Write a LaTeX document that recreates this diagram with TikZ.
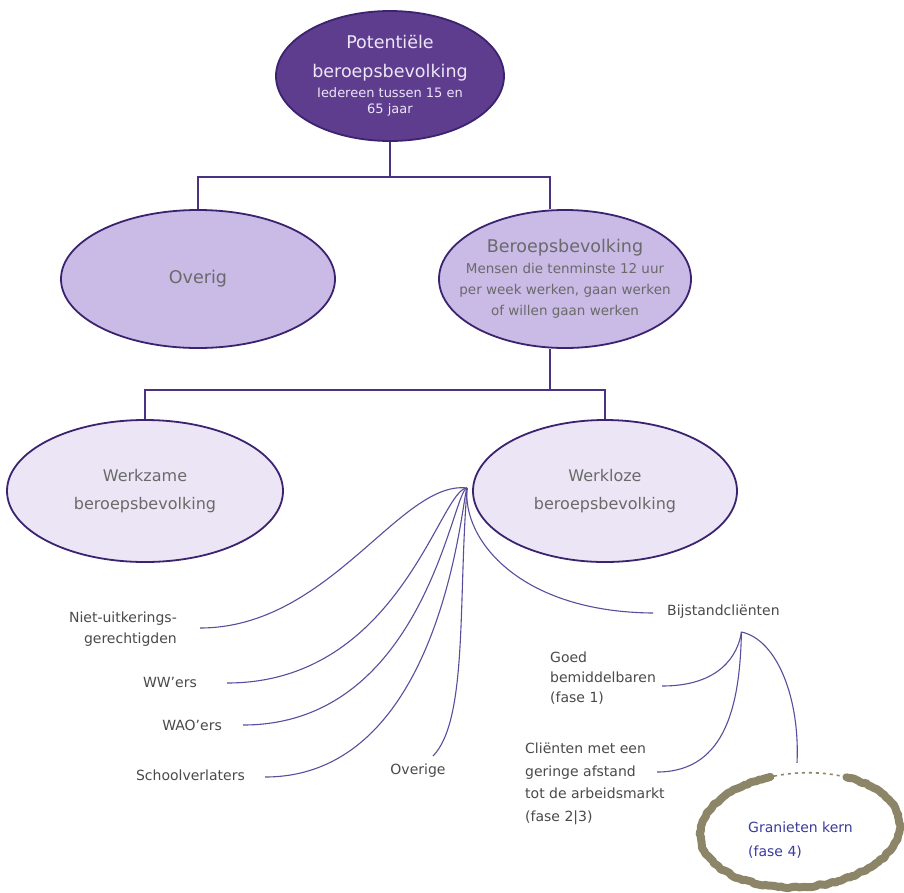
\documentclass[tikz,border=0pt]{standalone}
\usepackage{fontspec}
\setmainfont{DejaVu Sans}
\usetikzlibrary{shapes.geometric,calc,decorations.pathmorphing}
\definecolor{topfill}{HTML}{5E3D8F}
\definecolor{border}{HTML}{3B2370}
\definecolor{midfill}{HTML}{C9BAE6}
\definecolor{lowfill}{HTML}{ECE5F5}
\definecolor{barcol}{HTML}{4A3183}
\definecolor{fancol}{HTML}{5B4C9C}
\definecolor{txtgray}{HTML}{6A6A6A}
\definecolor{toptxt}{HTML}{EDE6F7}
\definecolor{lbltxt}{HTML}{4A4A4A}
\definecolor{ringcol}{HTML}{8C8568}
\definecolor{grantxt}{HTML}{3B3C9C}
\newcommand{\bigline}{\fontsize{17.5}{20}\selectfont}
\begin{document}
\begin{tikzpicture}[x=1pt,y=-1pt,
  ell/.style={ellipse, draw=border, line width=1.8pt, inner sep=0pt},
  etext/.style={align=center, inner sep=0pt, text=txtgray},
  bar/.style={draw=barcol, line width=2pt},
  fan/.style={draw=fancol, line width=1.1pt},
  lbl/.style={font=\fontsize{14}{21}\selectfont, text=lbltxt, inner sep=0pt},
  ring/.style={draw=ringcol, line width=8pt, line cap=round, line join=round,
     decorate, decoration={random steps, segment length=3pt, amplitude=1pt}}
]
\useasboundingbox (0,0) rectangle (904,892);
\fill[white] (0,0) rectangle (904,892);

% ellipses
\node[ell, fill=topfill, minimum width=228pt, minimum height=130pt,
  label={[etext, text=toptxt, font=\fontsize{13}{16}\selectfont]center:{{\bigline Potentiële}\\[13pt] {\bigline beroepsbevolking}\\[4pt] Iedereen tussen 15 en\\ 65 jaar}}]
  (top) at (390,76) {};
\node[ell, fill=midfill, minimum width=274pt, minimum height=138pt,
  label={[etext, font=\bigline]center:{Overig}}]
  (overig) at (198,279) {};
\node[ell, fill=midfill, minimum width=252pt, minimum height=138pt,
  label={[etext, font=\fontsize{13.5}{21}\selectfont]center:{{\bigline Beroepsbevolking}\\ Mensen die tenminste 12 uur\\ per week werken, gaan werken\\ of willen gaan werken}}]
  (beroeps) at (565,279) {};
\node[ell, fill=lowfill, minimum width=276pt, minimum height=142pt,
  label={[etext, font=\fontsize{16}{28}\selectfont]center:{Werkzame\\ beroepsbevolking}}]
  (werkzame) at (145,491) {};
\node[ell, fill=lowfill, minimum width=264pt, minimum height=142pt,
  label={[etext, font=\fontsize{16}{28}\selectfont]center:{Werkloze\\ beroepsbevolking}}]
  (werkloze) at (605,491) {};

% tree bars
\coordinate (b1) at (0,177);
\coordinate (b2) at (0,390);
\coordinate (bN) at ($(beroeps.north)+(-15,0)$);
\coordinate (bS) at ($(beroeps.south)+(-15,0)$);
\draw[bar] (top.south) -- (top.south |- b1);
\draw[bar] (overig.north) |- (bN |- b1) -- (bN);
\draw[bar] (bS) -- (bS |- b2);
\draw[bar] (werkzame.north) |- (werkloze.north |- b2) -- (werkloze.north);

% labels
\node[lbl, align=right, anchor=east] (niet) at (177,629) {Niet-uitkerings-\\ gerechtigden};
\node[lbl, anchor=east] (ww) at (197,682) {WW’ers};
\node[lbl, anchor=east] (wao) at (222,725) {WAO’ers};
\node[lbl, anchor=east] (school) at (245,775) {Schoolverlaters};
\node[lbl] (overige) at (418,771) {Overige};
\node[lbl, anchor=west] (bijstand) at (667,612) {Bijstandcliënten};
\node[lbl, align=left, anchor=west, font=\fontsize{14}{20}\selectfont] (goed) at (550,678) {Goed\\ bemiddelbaren\\ (fase 1)};
\node[lbl, align=left, anchor=west, font=\fontsize{14}{22.5}\selectfont] (client) at (525,784) {Cliënten met een\\ geringe afstand\\ tot de arbeidsmarkt\\ (fase 2|3)};
\node[lbl, align=left, anchor=west, text=grantxt, font=\fontsize{14}{24}\selectfont] (gran) at (748,840) {Granieten kern\\ (fase 4)};
\node[ellipse, minimum width=200pt, minimum height=114pt, inner sep=0pt] (ringnode) at (800,830) {};

% fan from Werkloze
\coordinate (fan) at ($(werkloze.west)+(-5,-3)$);
\draw[fan] (fan) .. controls (400,480) and (330,628) .. ($(niet.east)+(23,-1)$);
\draw[fan] (fan) .. controls (440,488) and (400,683) .. ($(ww.east)+(30,1)$);
\draw[fan] (fan) .. controls (452,490) and (425,725) .. ($(wao.east)+(21,0)$);
\draw[fan] (fan) .. controls (462,492) and (445,777) .. ($(school.east)+(20,2)$);
\draw[fan] (fan) .. controls (458,600) and (468,720) .. ($(overige.north)+(15,-8)$);
\draw[fan] (fan) .. controls (462,540) and (520,612) .. ($(bijstand.west)+(-14,1)$);

% fan from Bijstandcliënten
\coordinate (bfan) at ($(bijstand.south)+(18,13)$);
\draw[fan] (bfan) .. controls (738,655) and (720,686) .. ($(goed.east)+(6,8)$);
\draw[fan] (bfan) .. controls (740,700) and (728,772) .. ($(client.west)+(132,-12)$);
\draw[fan] (bfan) .. controls (778,640) and (800,700) .. ($(ringnode.north)+(-3,-10)$);

% granite ring (angles in canvas orientation, y up)
\begin{scope}[rotate around={4:(ringnode.center)}]
  \draw[ring] ($(ringnode.center)+(105:100pt and 57pt)$) arc[start angle=105, end angle=420, x radius=100pt, y radius=57pt];
  \draw[draw=ringcol, line width=1.6pt, dash pattern=on 3pt off 4pt] ($(ringnode.center)+(60:100pt and 57pt)$) arc[start angle=60, end angle=105, x radius=100pt, y radius=57pt];
\end{scope}
\end{tikzpicture}
\end{document}
